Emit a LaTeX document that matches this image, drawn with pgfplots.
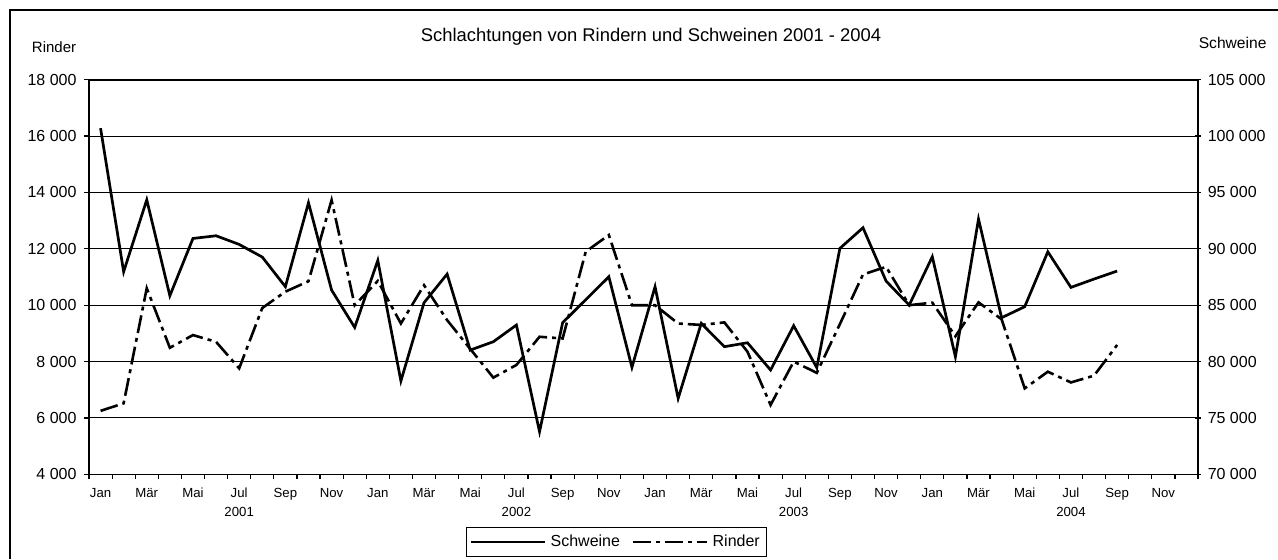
\documentclass[border=0pt]{standalone}
\usepackage{fontspec}
\setmainfont{Liberation Sans}
\usepackage{pgfplots}
\pgfplotsset{compat=1.18}

\pgfplotsset{mybase/.style={
  scale only axis, width=554.5pt, height=197.3pt,
  at={(44.5pt,-237.15pt)}, anchor=south west,
  xmin=0, xmax=48,
  scaled y ticks=false,
  axis line style={line width=0.8pt, black},
  tick style={line width=0.6pt, black},
  major tick length=2.7pt,
  minor tick length=2.2pt,
  yticklabel style={font=\fontsize{8}{9}\selectfont},
}}

\begin{document}
\begin{tikzpicture}
\useasboundingbox (0,0) rectangle (639pt,-279.5pt);
\draw[line width=0.8pt] (5pt,-279.5pt) -- (5pt,-5pt) -- (639pt,-5pt);

\begin{axis}[mybase,
  ymin=4000, ymax=18000,
  ytick={4000,6000,...,18000},
  yticklabels={4 000,6 000,8 000,10 000,12 000,14 000,16 000,18 000},
  ymajorgrids, grid style={line width=0.5pt, black},
  tick pos=left, tick align=outside,
  xtick={0.5,2.5,...,46.5},
  xticklabels={\strut Jan,\strut Mär,\strut Mai,{\strut Jul\\2001},\strut Sep,\strut Nov,\strut Jan,\strut Mär,\strut Mai,{\strut Jul\\2002},\strut Sep,\strut Nov,\strut Jan,\strut Mär,\strut Mai,{\strut Jul\\2003},\strut Sep,\strut Nov,\strut Jan,\strut Mär,\strut Mai,{\strut Jul\\2004},\strut Sep,\strut Nov},
  major x tick style={draw=none},
  minor xtick={0,1,...,48},
  xticklabel style={font=\fontsize{6.6}{9.2}\selectfont, align=center, anchor=north, yshift=1pt},
]
\addplot[black, line width=1.3pt, dash pattern=on 9pt off 2.5pt on 2pt off 2.5pt] coordinates {
(0.5,6250)(1.5,6520)(2.5,10600)(3.5,8490)(4.5,8940)(5.5,8700)(6.5,7760)(7.5,9900)(8.5,10480)(9.5,10850)(10.5,13730)(11.5,10000)(12.5,10860)(13.5,9350)(14.5,10710)(15.5,9470)(16.5,8450)(17.5,7430)(18.5,7880)(19.5,8880)(20.5,8820)(21.5,11900)(22.5,12490)(23.5,10000)(24.5,10000)(25.5,9350)(26.5,9300)(27.5,9390)(28.5,8350)(29.5,6460)(30.5,8000)(31.5,7600)(32.5,9330)(33.5,11090)(34.5,11360)(35.5,10000)(36.5,10090)(37.5,8900)(38.5,10100)(39.5,9500)(40.5,7050)(41.5,7640)(42.5,7260)(43.5,7500)(44.5,8590)
};
\end{axis}

\begin{axis}[mybase,
  ymin=70000, ymax=105000,
  ytick={70000,75000,...,105000},
  yticklabels={70 000,75 000,80 000,85 000,90 000,95 000,100 000,105 000},
  axis x line=none, axis y line*=right,
  ytick pos=right, tick align=center,
  legend style={at={(0.476,-0.1716)}, anchor=center, draw=black, line width=0.5pt,
    font=\fontsize{8}{9}\selectfont, legend columns=2, inner sep=1.5pt,
    /tikz/every even column/.append style={column sep=4pt}},
  legend image code/.code={\draw[#1] (0pt,0pt) -- (37pt,0pt);},
]
\addplot[black, line width=1.35pt] coordinates {
(0.5,100700)(1.5,87970)(2.5,94350)(3.5,85840)(4.5,90920)(5.5,91160)(6.5,90390)(7.5,89270)(8.5,86640)(9.5,94090)(10.5,86340)(11.5,83030)(12.5,88970)(13.5,78280)(14.5,85220)(15.5,87760)(16.5,81020)(17.5,81760)(18.5,83240)(19.5,73780)(20.5,83450)(21.5,85490)(22.5,87520)(23.5,79490)(24.5,86640)(25.5,76740)(26.5,83390)(27.5,81320)(28.5,81670)(29.5,79250)(30.5,83180)(31.5,79460)(32.5,90040)(33.5,91870)(34.5,87140)(35.5,85010)(36.5,89300)(37.5,80430)(38.5,92640)(39.5,83890)(40.5,84870)(41.5,89740)(42.5,86580)(43.5,87320)(44.5,88030)
};
\addlegendentry{Schweine}
\addlegendimage{black, line width=1.3pt, dash pattern=on 9pt off 2.5pt on 2pt off 2.5pt}
\addlegendentry{Rinder}
\end{axis}

\node[anchor=base, font=\fontsize{9.2}{11}\selectfont] at (325.5pt,-20.85pt) {Schlachtungen von Rindern und Schweinen 2001 - 2004};
\node[anchor=base west, inner sep=0pt, font=\fontsize{7.5}{8}\selectfont] at (15.8pt,-26.2pt) {Rinder};
\node[anchor=base west, inner sep=0pt, font=\fontsize{7.8}{8}\selectfont] at (599.2pt,-24.2pt) {Schweine};
\end{tikzpicture}
\end{document}
